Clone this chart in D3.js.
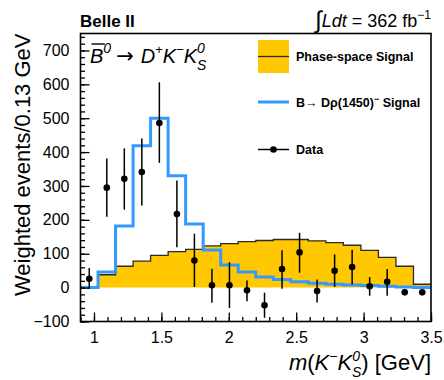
<!DOCTYPE html>
<html>
<head>
<meta charset="utf-8">
<script src="https://cdn.jsdelivr.net/npm/d3@7"></script>
<style>
  body { margin: 0; background: #fff; }
  svg { display: block; font-family: "Liberation Sans", Arial, sans-serif; }
</style>
</head>
<body>
<div id="chart"></div>
<script>
// bins of 0.13 GeV in m(K-Ks)
var binLo = [0.90, 1.03, 1.16, 1.29, 1.42, 1.55, 1.68, 1.81, 1.94, 2.07,
             2.20, 2.33, 2.46, 2.59, 2.72, 2.85, 2.98, 3.11, 3.24, 3.37];
var binWidth = 0.13;

// phase-space signal (yellow)
var phaseSpace = [0, 38, 63, 78, 95, 106, 113, 123, 130, 136,
                  139, 142, 142, 138, 133, 125, 110, 89, 63, 10];
// B -> D rho(1450) signal (blue)
var rhoSignal = [0, 46, 182, 419, 500, 330, 188, 111, 67, 46,
                 31, 24, 17, 13, 10, 8, 6, 4, 2, 0];
// data points and error bar ends
var dataVal = [26, 295, 321, 341, 486, 217, 80, 7, 7, -8,
               -52, 55, 104, -10, 50, 61, 4, 17, -14, -14];
var dataLo  = [-3, 209, 230, 242, 368, 119, 2, -45, -60, -40,
               -89, -3, 44, -44, 2, 10, -24, -24, -20, -20];
var dataHi  = [58, 381, 411, 440, 606, 316, 159, 56, 75, 21,
               -15, 110, 162, 24, 98, 112, 31, 55, -8, -8];

var xMajor = [1, 1.5, 2, 2.5, 3, 3.5];
var yMajor = [-100, 0, 100, 200, 300, 400, 500, 600, 700];

var W = 444, H = 380;
var padL = 80.5, padR = 431, padT = 33.5, padB = 321.5;

var svg = d3.select("#chart").append("svg").attr("width", W).attr("height", H);

var x = d3.scaleLinear().domain([0.9, 3.5]).range([padL, padR]);
var y = d3.scaleLinear().domain([-100, 750]).range([padB, padT]);

function steps(vals) {
  var pts = binLo.map(function (b, i) { return [b, vals[i]]; });
  pts.push([binLo[binLo.length - 1] + binWidth, vals[vals.length - 1]]);
  return pts;
}

// phase space filled histogram
var area = d3.area().curve(d3.curveStepAfter)
  .x(function (d) { return x(d[0]); })
  .y0(y(0))
  .y1(function (d) { return y(d[1]); });
var line = d3.line().curve(d3.curveStepAfter)
  .x(function (d) { return x(d[0]); })
  .y(function (d) { return y(d[1]); });

svg.append("path").datum(steps(phaseSpace))
  .attr("d", area).attr("fill", "#ffc800");
svg.append("path").datum(steps(phaseSpace))
  .attr("d", line).attr("fill", "none").attr("stroke", "#2a2a2a").attr("stroke-width", 1.3);

// blue signal
svg.append("path").datum(steps(rhoSignal))
  .attr("d", line).attr("fill", "none").attr("stroke", "#3399ff").attr("stroke-width", 3);

// data
var centers = binLo.map(function (b) { return b + binWidth / 2; });
var pts = svg.append("g");
pts.selectAll("line").data(centers).enter().append("line")
  .attr("x1", function (d) { return x(d); })
  .attr("x2", function (d) { return x(d); })
  .attr("y1", function (d, i) { return y(dataLo[i]); })
  .attr("y2", function (d, i) { return y(dataHi[i]); })
  .attr("stroke", "#000").attr("stroke-width", 1.5);
pts.selectAll("circle").data(centers).enter().append("circle")
  .attr("cx", function (d) { return x(d); })
  .attr("cy", function (d, i) { return y(dataVal[i]); })
  .attr("r", 3.3).attr("fill", "#000");

// frame
svg.append("rect").attr("x", padL).attr("y", padT)
  .attr("width", padR - padL).attr("height", padB - padT)
  .attr("fill", "none").attr("stroke", "#000").attr("stroke-width", 1.6);

// axes, ticks pointing inward
var yMinor = d3.range(-100, 751, 20);
var xMinor = d3.range(9, 36).map(function (v) { return v / 10; });

var gy = svg.append("g").attr("transform", "translate(" + padL + ",0)");
gy.call(d3.axisLeft(y).tickValues(yMinor).tickSize(-4.5).tickFormat(""));
gy.append("g").call(d3.axisLeft(y).tickValues(yMajor).tickSize(-9).tickPadding(11)
  .tickFormat(function (d) { return d < 0 ? "\u2212" + (-d) : d; }));

var gx = svg.append("g").attr("transform", "translate(0," + padB + ")");
gx.call(d3.axisBottom(x).tickValues(xMinor).tickSize(-4.5).tickFormat(""));
gx.append("g").call(d3.axisBottom(x).tickValues(xMajor).tickSize(-9).tickPadding(10)
  .tickFormat(d3.format("")));

svg.selectAll(".domain").remove();
svg.selectAll(".tick line").attr("stroke", "#000").attr("stroke-width", 1.3);
svg.selectAll(".tick text").attr("font-size", 16).attr("fill", "#000")
  .attr("font-family", "Liberation Sans, Arial, sans-serif");

// axis titles
svg.append("text")
  .attr("transform", "translate(30," + padT + ") rotate(-90)")
  .attr("text-anchor", "end").attr("font-size", 22)
  .text("Weighted events/0.13 GeV");

var xt = svg.append("text").attr("x", padR).attr("y", 370)
  .attr("text-anchor", "end").attr("font-size", 22);
xt.append("tspan").attr("font-style", "italic").text("m");
xt.append("tspan").text("(");
xt.append("tspan").attr("font-style", "italic").text("K");
xt.append("tspan").attr("font-size", 14).attr("dy", -9).text("\u2212");
xt.append("tspan").attr("font-style", "italic").attr("dy", 9).text("K");
xt.append("tspan").attr("font-style", "italic").attr("font-size", 14).attr("dy", -9).text("0");
xt.append("tspan").attr("font-style", "italic").attr("font-size", 14).attr("dx", -8).attr("dy", 16).text("S");
xt.append("tspan").attr("dy", -7).text(") [GeV]");

// header texts
svg.append("text").attr("x", 80).attr("y", 27)
  .attr("font-size", 17).attr("font-weight", "bold").text("Belle II");

var lum = svg.append("text").attr("x", padR).attr("y", 27)
  .attr("text-anchor", "end").attr("font-size", 18);
lum.append("tspan").attr("font-size", 24).attr("dy", 1).text("\u222B");
lum.append("tspan").attr("font-style", "italic").attr("dy", -1).text("Ldt");
lum.append("tspan").text(" = 362 fb");
lum.append("tspan").attr("font-size", 12).attr("dy", -8).text("\u22121");

// decay label
var dec = svg.append("text").attr("x", 90).attr("y", 63).attr("font-size", 20);
dec.append("tspan").attr("font-style", "italic").text("B");
dec.append("tspan").attr("font-style", "italic").attr("font-size", 14).attr("dy", -10).text("0");
dec.append("tspan").attr("dy", 10).attr("dx", 5)
  .attr("font-family", "DejaVu Sans").attr("font-size", 21).text("\u2192");
dec.append("tspan").attr("font-style", "italic").attr("dx", 7).text("D");
dec.append("tspan").attr("font-size", 13).attr("dy", -9).text("+");
dec.append("tspan").attr("font-style", "italic").attr("dy", 9).text("K");
dec.append("tspan").attr("font-size", 13).attr("dy", -9).text("\u2212");
dec.append("tspan").attr("font-style", "italic").attr("dy", 9).text("K");
dec.append("tspan").attr("font-style", "italic").attr("font-size", 14).attr("dy", -10).text("0");
dec.append("tspan").attr("font-style", "italic").attr("font-size", 14).attr("dx", -8).attr("dy", 17).text("S");
var tn = dec.node();
var b0 = tn.getStartPositionOfChar(0).x, b1 = tn.getEndPositionOfChar(0).x;
svg.append("line").attr("x1", b0 + 1.5).attr("x2", b1 + 1.5).attr("y1", 44).attr("y2", 44)
  .attr("stroke", "#000").attr("stroke-width", 1.4);

// legend
var lg = svg.append("g");
lg.append("rect").attr("x", 258).attr("y", 40).attr("width", 31).attr("height", 33).attr("fill", "#ffc800");
lg.append("line").attr("x1", 258).attr("x2", 289).attr("y1", 56.5).attr("y2", 56.5)
  .attr("stroke", "#2a2a2a").attr("stroke-width", 1.3);
lg.append("line").attr("x1", 258).attr("x2", 289).attr("y1", 102).attr("y2", 102)
  .attr("stroke", "#3399ff").attr("stroke-width", 3);
lg.append("line").attr("x1", 258).attr("x2", 289).attr("y1", 149.5).attr("y2", 149.5)
  .attr("stroke", "#000").attr("stroke-width", 1.5);
lg.append("circle").attr("cx", 273.5).attr("cy", 149.5).attr("r", 3.3).attr("fill", "#000");

var legText = [["Phase-space Signal", 56.5], [null, 102], ["Data", 149.5]];
legText.forEach(function (d) {
  if (!d[0]) return;
  lg.append("text").attr("x", 296).attr("y", d[1] + 4.5)
    .attr("font-size", 12.5).attr("font-weight", "bold").text(d[0]);
});
var rt = lg.append("text").attr("x", 296).attr("y", 106.5)
  .attr("font-size", 12.5).attr("font-weight", "bold");
rt.append("tspan").text("B");
rt.append("tspan").attr("font-weight", "normal").text("\u2192 ");
rt.append("tspan").text("D\u03C1(1450)");
rt.append("tspan").attr("font-size", 9).attr("dy", -5).text("\u2212");
rt.append("tspan").attr("dy", 5).text(" Signal");
</script>
</body>
</html>
